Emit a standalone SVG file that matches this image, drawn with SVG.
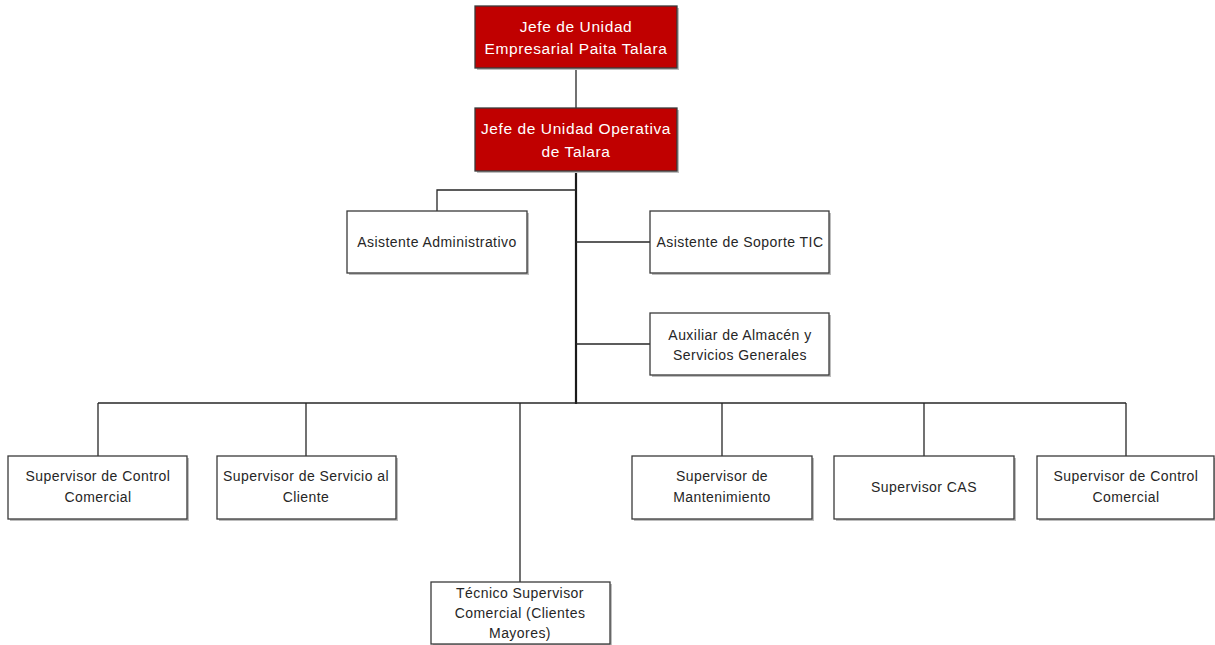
<svg xmlns="http://www.w3.org/2000/svg" width="1215" height="645" viewBox="0 0 1215 645">
<style>
.box{fill:#fff;stroke:#3a3a3a;stroke-width:1.3}
.red{fill:#c00000;stroke:#3a3a3a;stroke-width:1.3}
.sh{fill:#bdbdbd}
.t{font-family:"Liberation Sans",Arial,sans-serif;font-size:14px;letter-spacing:0.45px;fill:#262626;text-anchor:middle}
.tw{font-family:"Liberation Sans",Arial,sans-serif;font-size:15.5px;letter-spacing:0.6px;fill:#fff;text-anchor:middle}
.c{stroke:#262626;stroke-width:1.3;fill:none}
.ct{stroke:#1a1a1a;stroke-width:2.2;fill:none}
</style>
<rect width="1215" height="645" fill="#fff"/>
<g id="connectors">
<line class="c" x1="576" y1="68" x2="576" y2="108"/>
<line class="ct" x1="576" y1="171" x2="576" y2="404"/>
<polyline class="c" points="576,190 437,190 437,211"/>
<line class="c" x1="576" y1="242" x2="650" y2="242"/>
<line class="c" x1="576" y1="344" x2="650" y2="344"/>
<line class="c" x1="98" y1="403" x2="1126" y2="403"/>
<line class="c" x1="98" y1="403" x2="98" y2="456"/>
<line class="c" x1="306" y1="403" x2="306" y2="456"/>
<line class="c" x1="520" y1="403" x2="520" y2="582"/>
<line class="c" x1="722" y1="403" x2="722" y2="456"/>
<line class="c" x1="924" y1="403" x2="924" y2="456"/>
<line class="c" x1="1126" y1="403" x2="1126" y2="456"/>
</g>
<g id="n1">
<rect class="sh" x="477" y="8" width="202" height="62"/>
<rect class="red" x="475" y="6" width="202" height="62"/>
<text class="tw" x="576" y="32">Jefe de Unidad</text>
<text class="tw" x="576" y="54">Empresarial Paita Talara</text>
</g>
<g id="n2">
<rect class="sh" x="477" y="110" width="202" height="63"/>
<rect class="red" x="475" y="108" width="202" height="63"/>
<text class="tw" x="576" y="134">Jefe de Unidad Operativa</text>
<text class="tw" x="576" y="157">de Talara</text>
</g>
<g id="n3">
<rect class="sh" x="349" y="213" width="180" height="62"/>
<rect class="box" x="347" y="211" width="180" height="62"/>
<text class="t" x="437" y="247">Asistente Administrativo</text>
</g>
<g id="n4">
<rect class="sh" x="652" y="213" width="179" height="62"/>
<rect class="box" x="650" y="211" width="179" height="62"/>
<text class="t" x="740" y="247">Asistente de Soporte TIC</text>
</g>
<g id="n5">
<rect class="sh" x="652" y="315" width="179" height="62"/>
<rect class="box" x="650" y="313" width="179" height="62"/>
<text class="t" x="740" y="340">Auxiliar de Almacén y</text>
<text class="t" x="740" y="360">Servicios Generales</text>
</g>
<g id="n6">
<rect class="sh" x="10" y="458" width="179" height="63"/>
<rect class="box" x="8" y="456" width="179" height="63"/>
<text class="t" x="98" y="481">Supervisor de Control</text>
<text class="t" x="98" y="502">Comercial</text>
</g>
<g id="n7">
<rect class="sh" x="219" y="458" width="179" height="63"/>
<rect class="box" x="217" y="456" width="179" height="63"/>
<text class="t" x="306" y="481">Supervisor de Servicio al</text>
<text class="t" x="306" y="502">Cliente</text>
</g>
<g id="n8">
<rect class="sh" x="433" y="584" width="179" height="63"/>
<rect class="box" x="431" y="582" width="179" height="62"/>
<text class="t" x="520" y="598">Técnico Supervisor</text>
<text class="t" x="520" y="618">Comercial (Clientes</text>
<text class="t" x="520" y="638">Mayores)</text>
</g>
<g id="n9">
<rect class="sh" x="634" y="458" width="180" height="63"/>
<rect class="box" x="632" y="456" width="180" height="63"/>
<text class="t" x="722" y="481">Supervisor de</text>
<text class="t" x="722" y="502">Mantenimiento</text>
</g>
<g id="n10">
<rect class="sh" x="836" y="458" width="180" height="63"/>
<rect class="box" x="834" y="456" width="180" height="63"/>
<text class="t" x="924" y="492">Supervisor CAS</text>
</g>
<g id="n11">
<rect class="sh" x="1039" y="458" width="176" height="63"/>
<rect class="box" x="1037" y="456" width="177" height="63"/>
<text class="t" x="1126" y="481">Supervisor de Control</text>
<text class="t" x="1126" y="502">Comercial</text>
</g>
</svg>
